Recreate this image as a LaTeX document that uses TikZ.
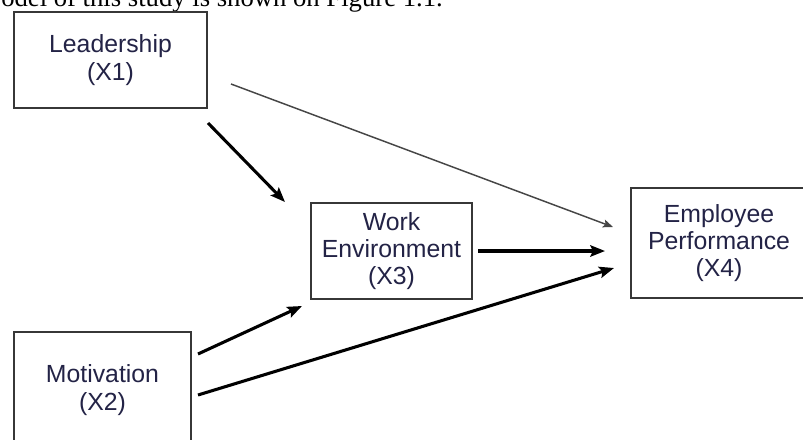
\documentclass[tikz,border=0pt]{standalone}
\usepackage{fontspec}
\setmainfont{Liberation Serif}
\newfontfamily\arialf{Liberation Sans}
\usetikzlibrary{arrows.meta}
\definecolor{boxline}{RGB}{55,55,55}
\definecolor{boxtext}{RGB}{35,35,70}
\definecolor{thinline}{RGB}{70,70,70}
\begin{document}
\begin{tikzpicture}[x=0.75pt,y=-0.75pt,
  varbox/.style={draw=boxline,line width=1.5pt,fill=white,align=center,inner sep=0pt,
    text=boxtext,font=\arialf\fontsize{18.6}{20.5}\selectfont},
  thickarrow/.style={line width=2.3pt,-{Stealth[length=11pt,width=8.5pt,inset=2pt]}},
  thinarrow/.style={draw=thinline,line width=1.1pt,-{Stealth[length=7.5pt,width=6pt,inset=1.5pt]}}]
\useasboundingbox (0,0) rectangle (803,439);
\clip (0,0) rectangle (803,439);
\fill[white] (0,0) rectangle (803,439);
\node[anchor=base west,inner sep=0pt,font=\fontsize{20}{22}\selectfont] (cap) at (1,7) {odel of this study is shown on Figure 1.1.};

\node[varbox,minimum width=144.75pt,minimum height=72pt] (L) at (110.5,60) {Leadership\\(X1)};
\node[varbox,minimum width=120.75pt,minimum height=72pt] (WE) at (391.5,251) {Work\\Environment\\(X3)};
\node[varbox,minimum width=132pt,minimum height=82.5pt] (EP) at (719,243) {Employee\\Performance\\(X4)};
\node[varbox,minimum width=132.75pt,minimum height=87pt] (M) at (102.5,390) {Motivation\\(X2)};

\coordinate (l1) at (231,84);
\coordinate (e1) at (613,227);
\coordinate (l2) at (208,123);
\coordinate (w1) at (285,202);
\coordinate (w2) at (478,251);
\coordinate (e2) at (605,251);
\coordinate (m1) at (198,354);
\coordinate (w3) at (302,306);
\coordinate (m2) at (198,395);
\coordinate (e3) at (614,268);

\draw[thinarrow] (l1) -- (e1);
\draw[thickarrow] (l2) -- (w1);
\draw[thickarrow] (w2) -- (e2);
\draw[thickarrow] (m1) -- (w3);
\draw[thickarrow] (m2) -- (e3);
\end{tikzpicture}
\end{document}
